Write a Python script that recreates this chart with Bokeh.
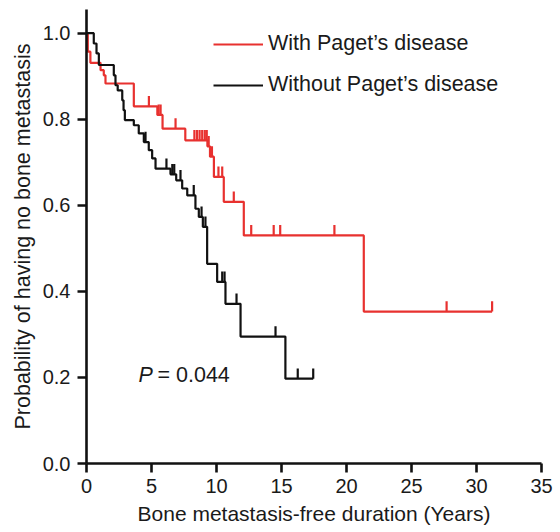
from bokeh.plotting import figure
from bokeh.models import Range1d, Legend, LegendItem, Label, FixedTicker, NumeralTickFormatter
from bokeh.embed import file_html
from bokeh.resources import INLINE

# ---------------- data ----------------
x_ticks = [0, 5, 10, 15, 20, 25, 30, 35]
y_ticks = [0.0, 0.2, 0.4, 0.6, 0.8, 1.0]

# With Paget's disease (red): event times and survival level after each event
red_t = [0, 0.1, 0.3, 1.08, 1.33, 1.46, 3.64, 5.45, 5.85, 7.6, 9.3, 9.5, 9.8, 10.56, 12.1, 21.33]
red_s = [1.0, 0.957, 0.931, 0.914, 0.902, 0.883, 0.830, 0.810, 0.778, 0.751, 0.737, 0.713, 0.666, 0.608, 0.530, 0.353]
red_censor = [4.8, 5.55, 5.7, 6.85, 8.3, 8.5, 8.7, 8.9, 9.1, 9.25, 9.4, 9.65, 10.15, 10.44,
              11.33, 12.67, 14.4, 14.9, 19.07, 27.7, 31.2]
red_end = 31.2

# Without Paget's disease (black)
black_t = [0, 0.56, 0.77, 0.95, 2.1, 2.23, 2.4, 2.75, 2.85, 2.95, 3.64, 4.02, 4.41, 4.79, 5.05,
           5.31, 6.46, 6.9, 7.36, 7.75, 8.38, 8.64, 8.95, 9.28, 10.05, 10.69, 11.85, 15.3]
black_s = [1.0, 0.976, 0.953, 0.926, 0.902, 0.879, 0.867, 0.844, 0.821, 0.798, 0.786, 0.767, 0.747,
           0.728, 0.709, 0.685, 0.672, 0.658, 0.639, 0.623, 0.592, 0.573, 0.550, 0.464, 0.422,
           0.371, 0.295, 0.197]
black_censor = [4.54, 6.15, 6.6, 6.75, 7.23, 8.25, 8.85, 9.15, 10.44, 10.62, 11.54, 14.54, 16.25, 17.44]
black_end = 17.44

p_value_text = "= 0.044"
x_title = "Bone metastasis-free duration (Years)"
y_title = "Probability of having no bone metastasis"

RED = "#e8312f"
BLACK = "#111111"
FONT = "Liberation Sans"
TXT = "#1a1a1a"


def level_at(times, levels, t):
    lv = levels[0]
    for ti, si in zip(times, levels):
        if ti <= t:
            lv = si
    return lv


p = figure(width=556, height=532, output_backend="svg", toolbar_location=None,
           x_range=Range1d(0, 35), y_range=Range1d(0, 1.055),
           min_border_left=86, min_border_right=15, min_border_top=9, min_border_bottom=69)
p.outline_line_color = None
p.xgrid.visible = False
p.ygrid.visible = False
p.background_fill_color = "white"
p.border_fill_color = "white"

tick_h = 0.024
renderers = {}
for name, ts, ss, cens, end, col in [("With Paget’s disease", red_t, red_s, red_censor, red_end, RED),
                                      ("Without Paget’s disease", black_t, black_s, black_censor, black_end, BLACK)]:
    r = p.step(x=ts + [end], y=ss + [ss[-1]], mode="after", line_color=col, line_width=2.2)
    renderers[name] = r
    cy = [level_at(ts, ss, c) for c in cens]
    p.segment(x0=cens, y0=cy, x1=cens, y1=[v + tick_h for v in cy], line_color=col, line_width=2.2)

legend = Legend(items=[LegendItem(label="With Paget’s disease", renderers=[renderers["With Paget’s disease"]]),
                       LegendItem(label="Without Paget’s disease", renderers=[renderers["Without Paget’s disease"]])],
                location=(127, 366), glyph_width=50, glyph_height=20, label_height=20, spacing=16,
                padding=0, margin=0, label_standoff=5, border_line_alpha=0, background_fill_alpha=0,
                label_text_font_size="21.5px", label_text_font=FONT, label_text_color=TXT)
p.add_layout(legend)

p.add_layout(Label(x=4.0, y=0.177, text="P", text_font_style="italic", text_font=FONT,
                   text_font_size="21.5px", text_color=TXT))
p.add_layout(Label(x=4.0, y=0.177, x_offset=19, text=p_value_text, text_font=FONT,
                   text_font_size="21.5px", text_color=TXT))

for ax in (p.xaxis[0], p.yaxis[0]):
    ax.axis_line_width = 2.6
    ax.axis_line_color = BLACK
    ax.major_tick_line_width = 2.6
    ax.major_tick_line_color = BLACK
    ax.major_tick_out = 9
    ax.major_tick_in = 0
    ax.minor_tick_line_color = None
    ax.major_label_text_font = FONT
    ax.major_label_text_font_size = "20px"
    ax.major_label_text_color = TXT
    ax.axis_label_text_font = FONT
    ax.axis_label_text_font_style = "normal"
    ax.axis_label_text_color = TXT

p.xaxis.axis_label_text_font_size = "21px"
p.yaxis.axis_label_text_font_size = "21.5px"
p.xaxis.ticker = FixedTicker(ticks=x_ticks)
p.yaxis.ticker = FixedTicker(ticks=y_ticks)
p.yaxis.formatter = NumeralTickFormatter(format="0.0")
p.xaxis.axis_label = x_title
p.yaxis.axis_label = y_title
p.xaxis.major_label_standoff = 6
p.xaxis.axis_label_standoff = 6
p.yaxis.major_label_standoff = 7
p.yaxis.axis_label_standoff = 5

open("out.html", "w").write(file_html(p, INLINE))
